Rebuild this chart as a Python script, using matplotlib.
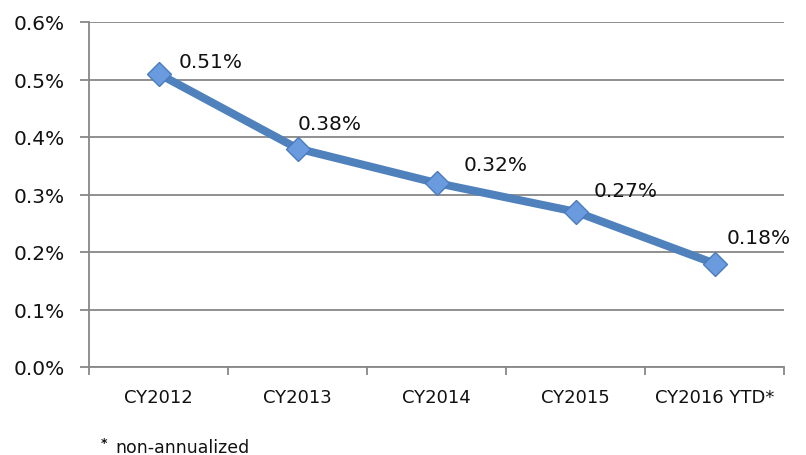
import matplotlib
matplotlib.use("Agg")
import matplotlib.pyplot as plt
from matplotlib.ticker import FuncFormatter, FixedLocator

categories = ["CY2012", "CY2013", "CY2014", "CY2015", "CY2016 YTD*"]
values = [0.51, 0.38, 0.32, 0.27, 0.18]
value_labels = ["0.51%", "0.38%", "0.32%", "0.27%", "0.18%"]
y_ticks = [0.0, 0.1, 0.2, 0.3, 0.4, 0.5, 0.6]
footnote_mark = "*"
footnote_text = "non-annualized"

# label offsets (pixels -> points)
label_offsets_px = [(20, 12), (0, 25), (27, 18), (18, 21), (12, 26)]

plt.rcParams['font.family'] = ['DejaVu Sans']
fig = plt.figure(figsize=(8.06, 4.56), dpi=100)
ax = fig.add_axes([89/806, 1 - 368/456, (784 - 89)/806, (368 - 23)/456])

x = list(range(len(categories)))
line_color = "#4F81BD"
ax.plot(x, values, color=line_color, lw=5.8, solid_capstyle='butt', zorder=3)
ax.plot(x, values, linestyle='none', marker='D', markersize=12,
        markerfacecolor='#6A9BDF', markeredgecolor='#4A7CBC', markeredgewidth=1.0, zorder=4)

text_color = '#111111'
for xi, v, lab, (dx, dy) in zip(x, values, value_labels, label_offsets_px):
    ax.annotate(lab, (xi, v), xytext=(dx * 0.72, dy * 0.72), textcoords='offset points',
                ha='left', va='center', fontsize=14.5, color=text_color)

ax.set_xlim(-0.5, len(categories) - 0.5)
ax.set_ylim(0, 0.6)
ax.set_yticks(y_ticks)
ax.yaxis.set_major_formatter(FuncFormatter(lambda v, p: f"{v:.1f}%"))
ax.grid(axis='y', color='#878787', lw=1.3)
ax.set_axisbelow(True)

# x: category labels at centers, tick marks at boundaries
ax.set_xticks(x)
ax.set_xticklabels(categories, fontsize=13, color=text_color)
ax.tick_params(axis='x', which='major', length=0, pad=15)
ax.xaxis.set_minor_locator(FixedLocator([i - 0.5 for i in range(len(categories) + 1)]))
ax.tick_params(axis='x', which='minor', length=6, width=1.3, color='#878787', direction='out')

ax.tick_params(axis='y', length=6.5, width=1.3, color='#878787', labelsize=14.5, pad=11,
               labelcolor=text_color)

for s in ['top', 'right']:
    ax.spines[s].set_visible(False)
for s in ['left', 'bottom']:
    ax.spines[s].set_color('#878787')
    ax.spines[s].set_linewidth(1.3)

fig.text(101/806, 1 - 444/456, footnote_mark, fontsize=9, ha='left', va='center',
         color=text_color, fontweight='bold')
fig.text(115/806, 1 - 448/456, footnote_text, fontsize=12.5, ha='left', va='center',
         color=text_color)

fig.savefig("out.png", dpi=100, facecolor='white')
